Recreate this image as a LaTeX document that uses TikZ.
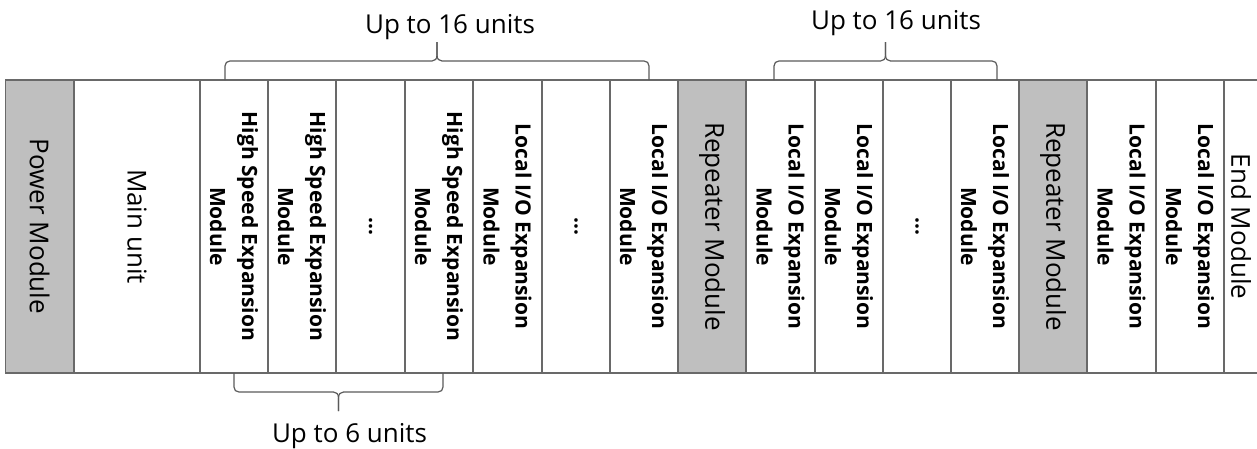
\documentclass[tikz,border=0pt]{standalone}
\usepackage{fontspec}
\setmainfont{Open Sans}

\definecolor{linegray}{RGB}{105,105,105}
\definecolor{fillgray}{RGB}{191,191,191}
\definecolor{bracegray}{RGB}{90,90,90}

\tikzset{
  module/.style={draw=linegray, line width=1.4pt, rotate=-90, minimum width=293pt,
    minimum height=#1, inner sep=0pt, align=center, font=\fontsize{26}{30}\selectfont},
  module/.default=68.3pt,
  busmod/.style={module, fill=fillgray},
  expmod/.style={module, font=\bfseries\fontsize{21}{32}\selectfont},
  brace line/.style={draw=bracegray, line width=1.2pt},
  units/.style={anchor=base, font=\fontsize{26}{30}\selectfont},
  pics/unitbrace/.style={code={
    \draw[brace line] (-#1,0) -- (-#1,-14) .. controls (-#1,-17) and (-#1+2,-19) .. (-#1+5,-19)
      -- (-5,-19) .. controls (-2,-19) and (0,-21) .. (0,-25) -- (0,-38);
    \draw[brace line] (#1,0) -- (#1,-14) .. controls (#1,-17) and (#1-2,-19) .. (#1-5,-19)
      -- (5,-19) .. controls (2,-19) and (0,-21) .. (0,-25) -- (0,-38);
  }}
}

\begin{document}
\begin{tikzpicture}[x=1pt, y=-1pt]
    \useasboundingbox (0,0) rectangle (1257,448);
    % base units
    \node[busmod=69pt] (pm) at (39.5,226.5) {Power Module};
    \node[module=126pt] (mu) at (137,226.5) {Main unit};
    % high speed expansion modules
    \node[expmod] (hs1) at (234,226.5) {High Speed Expansion\\Module};
    \node[expmod] (hs2) at (302,226.5) {High Speed Expansion\\Module};
    \node[expmod] (hsd) at (370.5,226.5) {…};
    \node[expmod] (hs3) at (439,226.5) {High Speed Expansion\\Module};
    % local I/O, first block
    \node[expmod] (lo1) at (507.5,226.5) {Local I/O Expansion\\Module};
    \node[expmod] (lod1) at (576,226.5) {…};
    \node[expmod] (lo2) at (644,226.5) {Local I/O Expansion\\Module};
    \node[busmod] (rp1) at (712,226.5) {Repeater Module};
    % local I/O, second block
    \node[expmod] (lo3) at (780.5,226.5) {Local I/O Expansion\\Module};
    \node[expmod] (lo4) at (849,226.5) {Local I/O Expansion\\Module};
    \node[expmod] (lod2) at (917,226.5) {…};
    \node[expmod] (lo5) at (985,226.5) {Local I/O Expansion\\Module};
    \node[busmod] (rp2) at (1053,226.5) {Repeater Module};
    % last block, end module runs off the right edge
    \node[expmod] (lo6) at (1121.5,226.5) {Local I/O Expansion\\Module};
    \node[expmod] (lo7) at (1190,226.5) {Local I/O Expansion\\Module};
    \node[module=34pt] (em) at (1241,226.5) {End Module};
    % braces and counts
    \pic at (437,80) {unitbrace=212};
    \node[units] (cnt1) at (450,33) {Up to 16 units};
    \pic at (885.5,80) {unitbrace=111.5};
    \node[units] (cnt2) at (896,29) {Up to 16 units};
    \pic[yscale=-1] at (338.5,373) {unitbrace=104.5};
    \node[units] (cnt3) at (349.5,442) {Up to 6 units};
\end{tikzpicture}
\end{document}
